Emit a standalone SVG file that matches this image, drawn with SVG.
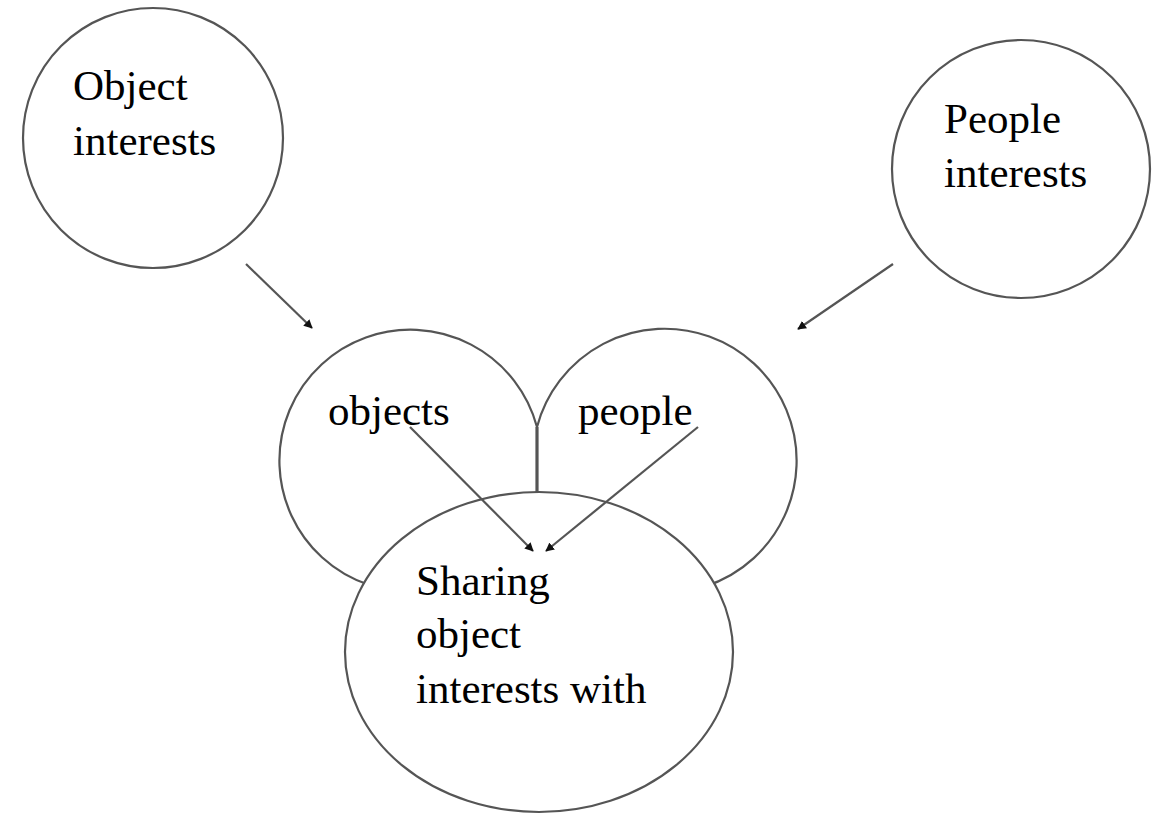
<svg xmlns="http://www.w3.org/2000/svg" width="1162" height="814" viewBox="0 0 1162 814">
<defs>
<style>
.c{fill:none;stroke:#555;stroke-width:2.2}
.w{fill:#fff;stroke:#555;stroke-width:2.2}
.a{stroke:#555;stroke-width:2.2;fill:none;marker-end:url(#ah)}
text{font-family:"Liberation Serif","Times New Roman",serif;font-size:43px;fill:#000}
</style>
<marker id="ah" viewBox="0 0 10 10" refX="9" refY="5" markerWidth="4" markerHeight="4" orient="auto" markerUnits="strokeWidth">
<path d="M0,0 L10,5 L0,10 z" fill="#111"/>
</marker>
</defs>
<rect width="1162" height="814" fill="#fff"/>
<g id="object-interests">
<circle class="c" cx="153" cy="138" r="130"/>
<text x="73" y="100">Object</text>
<text x="73" y="155">interests</text>
</g>
<g id="people-interests">
<circle class="c" cx="1021" cy="169" r="129"/>
<text x="944" y="133">People</text>
<text x="944" y="187">interests</text>
</g>
<g id="objects">
<path class="c" d="M537,427 A131,131 0 1 0 475.5,574.4"/>
<text x="328" y="425">objects</text>
</g>
<g id="people">
<path class="c" d="M537,427 A132,132 0 1 1 599,575.3"/>
<text x="578" y="425">people</text>
</g>
<line x1="537" y1="427" x2="537" y2="496" stroke="#555" stroke-width="3.2"/>
<g id="sharing">
<ellipse class="w" cx="539" cy="652" rx="194" ry="160"/>
<text x="416" y="595">Sharing</text>
<text x="416" y="648">object</text>
<text x="416" y="703">interests with</text>
</g>
<g id="connectors">
<line class="a" x1="246" y1="264" x2="312" y2="328"/>
<line class="a" x1="893" y1="264" x2="798" y2="329"/>
<line class="a" x1="410" y1="427" x2="533" y2="551"/>
<line class="a" x1="698" y1="427" x2="546" y2="551"/>
</g>
</svg>
